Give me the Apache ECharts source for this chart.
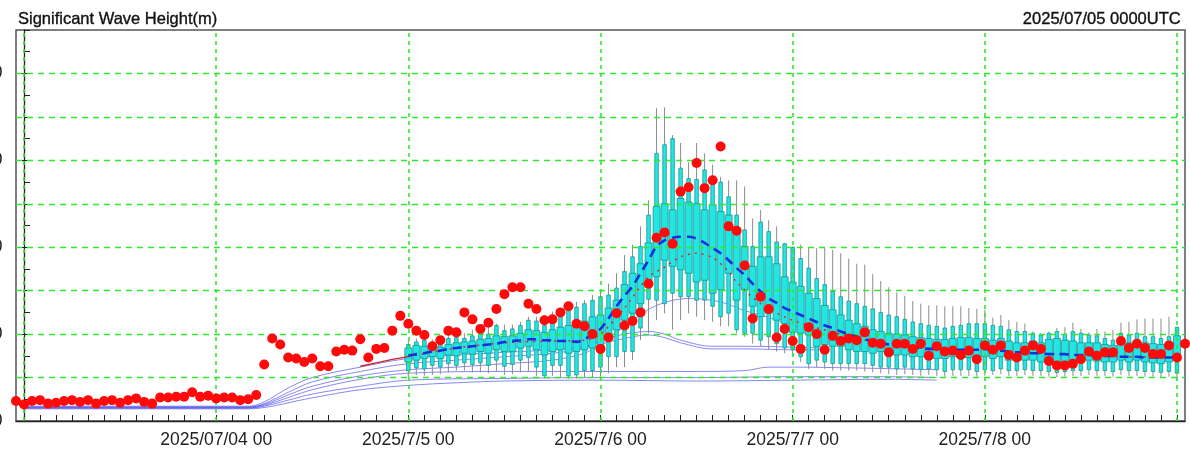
<!DOCTYPE html>
<html>
<head>
<meta charset="utf-8">
<title>Significant Wave Height</title>
<script src="https://cdn.jsdelivr.net/npm/echarts@6/dist/echarts.min.js"></script>
<style>
  html, body { margin: 0; padding: 0; background: #fff; }
  #chart { width: 1190px; height: 452px; }
</style>
</head>
<body>
<div id="chart"></div>
<script>
// Hours are counted from 2025/07/03 00 UTC.
const titleText = 'Significant Wave Height(m)';
const initText = '2025/07/05 0000UTC';

const xLabelHours = [24, 48, 72, 96, 120];
const xLabelText = ['2025/07/04 00', '2025/7/5 00', '2025/7/6 00', '2025/7/7 00', '2025/7/8 00'];
const dayHours = [0, 24, 48, 72, 96, 120, 144];
const yLabelValues = [0, 1, 2, 3, 4];
const yGridValues = [0.5, 1, 1.5, 2, 2.5, 3, 3.5, 4];

// Observed wave height, hourly from hour -1 to hour 145
const obsStartHour = -1;
const obsValues = [
  0.23, 0.19, 0.23, 0.24, 0.20, 0.21, 0.23, 0.24, 0.22, 0.24, 0.20, 0.23, 0.24, 0.21, 0.24, 0.26,
  0.22, 0.20, 0.27, 0.27, 0.28, 0.28, 0.33, 0.28, 0.29, 0.26, 0.27, 0.27, 0.24, 0.25, 0.30, 0.65,
  0.95, 0.88, 0.73, 0.72, 0.68, 0.72, 0.63, 0.63, 0.80, 0.82, 0.81, 0.94, 0.73, 0.83, 0.84, 1.04,
  1.21, 1.12, 1.04, 0.99, 0.86, 0.93, 1.04, 1.02, 1.25, 1.17, 1.06, 1.13, 1.29, 1.46, 1.54, 1.54,
  1.35, 1.29, 1.16, 1.17, 1.25, 1.32, 1.12, 1.09, 1.00, 0.83, 0.96, 1.24, 1.10, 1.15, 1.25, 1.58,
  2.11, 2.17, 2.04, 2.64, 2.69, 2.97, 2.68, 2.77, 3.16, 2.24, 2.19, 1.79, 1.18, 1.43, 1.29, 0.96,
  1.06, 0.92, 0.83, 1.08, 1.00, 0.82, 0.98, 0.92, 0.95, 0.93, 1.02, 0.90, 0.89, 0.79, 0.89, 0.89,
  0.83, 0.89, 0.75, 0.86, 0.80, 0.81, 0.76, 0.81, 0.71, 0.87, 0.82, 0.87, 0.76, 0.73, 0.81, 0.87,
  0.83, 0.69, 0.64, 0.64, 0.66, 0.71, 0.80, 0.75, 0.79, 0.79, 0.92, 0.84, 0.89, 0.84, 0.77, 0.77,
  0.87, 0.73, 0.89
];

// Ensemble statistics, hourly from hour 48 to hour 144
const ensStartHour = 48;
const ensMax = [
  0.93, 0.95, 0.99, 0.94, 0.98, 0.99, 1.03, 1.01, 1.05, 1.09, 1.08, 1.12, 1.11, 1.11, 1.14, 1.20,
  1.20, 1.22, 1.26, 1.26, 1.33, 1.37, 1.39, 1.45, 1.50, 1.58, 1.70, 1.91, 2.03, 2.24, 2.54, 3.60,
  3.61, 3.29, 3.20, 2.98, 3.20, 3.08, 2.95, 2.81, 2.77, 2.77, 2.70, 2.33, 2.43, 2.31, 2.24, 2.05,
  2.01, 2.03, 2.00, 1.99, 1.99, 1.97, 1.93, 1.87, 1.81, 1.80, 1.69, 1.61, 1.54, 1.48, 1.44, 1.38,
  1.35, 1.33, 1.33, 1.32, 1.32, 1.32, 1.30, 1.29, 1.28, 1.19, 1.22, 1.16, 1.14, 1.12, 1.03, 1.01,
  1.03, 1.07, 1.08, 1.13, 1.06, 1.02, 1.06, 1.03, 1.05, 1.13, 1.14, 1.17, 1.18, 1.18, 1.18, 1.20,
  1.08
];
const ensP90 = [
  0.88, 0.91, 0.93, 0.86, 0.90, 0.95, 0.96, 0.95, 0.98, 1.02, 1.00, 1.10, 1.04, 1.06, 1.10, 1.16,
  1.15, 1.10, 1.16, 1.24, 1.31, 1.31, 1.35, 1.39, 1.43, 1.45, 1.53, 1.72, 1.89, 2.01, 2.37, 3.08,
  3.18, 3.25, 2.91, 2.79, 2.78, 2.89, 2.74, 2.75, 2.58, 2.37, 2.20, 2.01, 2.29, 2.18, 2.06, 2.04,
  2.00, 1.87, 1.76, 1.64, 1.57, 1.49, 1.43, 1.38, 1.35, 1.32, 1.29, 1.25, 1.22, 1.20, 1.17, 1.14,
  1.12, 1.10, 1.09, 1.07, 1.09, 1.10, 1.12, 1.12, 1.12, 1.10, 1.09, 1.05, 1.03, 1.03, 1.01, 0.99,
  1.01, 1.03, 1.00, 1.03, 1.01, 0.99, 0.98, 0.95, 0.93, 1.01, 0.99, 1.01, 0.97, 0.97, 0.95, 0.97,
  1.08
];
const ensP75 = [
  0.84, 0.87, 0.86, 0.82, 0.85, 0.88, 0.90, 0.91, 0.92, 0.94, 0.95, 0.98, 0.97, 0.98, 1.01, 1.05,
  1.04, 1.02, 1.05, 1.08, 1.10, 1.12, 1.15, 1.20, 1.22, 1.30, 1.39, 1.57, 1.70, 1.81, 2.05, 2.47,
  2.50, 2.43, 2.56, 2.52, 2.50, 2.43, 2.49, 2.41, 2.37, 2.16, 2.01, 1.78, 1.89, 1.89, 1.81, 1.66,
  1.60, 1.55, 1.47, 1.41, 1.33, 1.28, 1.22, 1.16, 1.12, 1.09, 1.05, 1.03, 1.01, 1.00, 0.99, 0.97,
  0.96, 0.95, 0.94, 0.94, 0.95, 0.96, 0.96, 0.95, 0.95, 0.93, 0.95, 0.92, 0.90, 0.90, 0.92, 0.90,
  0.94, 0.95, 0.93, 0.92, 0.90, 0.90, 0.90, 0.88, 0.87, 0.92, 0.90, 0.92, 0.90, 0.89, 0.88, 0.90,
  0.98
];
const ensP25 = [
  0.68, 0.70, 0.72, 0.74, 0.72, 0.76, 0.75, 0.78, 0.77, 0.80, 0.78, 0.82, 0.80, 0.80, 0.84, 0.86,
  0.82, 0.76, 0.80, 0.82, 0.78, 0.80, 0.82, 0.84, 0.88, 0.98, 1.05, 1.16, 1.24, 1.35, 1.62, 1.66,
  1.85, 1.78, 1.74, 1.70, 1.60, 1.62, 1.47, 1.51, 1.70, 1.39, 1.51, 1.32, 1.20, 1.24, 1.16, 1.12,
  1.02, 1.01, 0.99, 0.86, 0.88, 0.86, 0.86, 0.82, 0.80, 0.80, 0.78, 0.80, 0.76, 0.76, 0.76, 0.74,
  0.74, 0.74, 0.72, 0.72, 0.74, 0.74, 0.73, 0.72, 0.74, 0.72, 0.74, 0.70, 0.70, 0.70, 0.70, 0.68,
  0.66, 0.66, 0.68, 0.68, 0.68, 0.70, 0.69, 0.68, 0.68, 0.70, 0.68, 0.70, 0.68, 0.67, 0.66, 0.68,
  0.70
];
const ensP10 = [
  0.58, 0.61, 0.60, 0.64, 0.62, 0.66, 0.64, 0.67, 0.65, 0.67, 0.64, 0.70, 0.63, 0.65, 0.70, 0.73,
  0.62, 0.52, 0.64, 0.64, 0.52, 0.53, 0.58, 0.58, 0.62, 0.74, 0.74, 0.80, 0.80, 1.07, 1.40, 1.39,
  1.35, 1.47, 1.43, 1.43, 1.39, 1.39, 1.32, 1.20, 1.24, 1.05, 1.01, 1.01, 0.93, 0.97, 0.89, 0.84,
  0.82, 0.74, 0.66, 0.70, 0.68, 0.66, 0.66, 0.66, 0.66, 0.66, 0.64, 0.62, 0.62, 0.60, 0.62, 0.60,
  0.59, 0.60, 0.59, 0.57, 0.59, 0.59, 0.59, 0.57, 0.59, 0.58, 0.60, 0.58, 0.58, 0.59, 0.58, 0.58,
  0.57, 0.56, 0.57, 0.58, 0.58, 0.59, 0.58, 0.58, 0.57, 0.59, 0.58, 0.58, 0.57, 0.57, 0.56, 0.57,
  0.55
];
const ensMin = [
  0.50, 0.53, 0.52, 0.53, 0.54, 0.56, 0.58, 0.58, 0.56, 0.56, 0.55, 0.57, 0.53, 0.54, 0.56, 0.57,
  0.52, 0.49, 0.52, 0.50, 0.49, 0.49, 0.50, 0.50, 0.51, 0.55, 0.62, 0.62, 0.70, 0.93, 1.01, 1.16,
  1.24, 1.05, 1.16, 1.24, 1.20, 1.16, 1.14, 1.09, 1.09, 1.01, 0.97, 0.89, 0.86, 0.82, 0.80, 0.78,
  0.75, 0.68, 0.60, 0.62, 0.60, 0.58, 0.58, 0.58, 0.58, 0.57, 0.56, 0.55, 0.54, 0.53, 0.54, 0.53,
  0.52, 0.53, 0.52, 0.51, 0.52, 0.52, 0.52, 0.51, 0.52, 0.53, 0.54, 0.52, 0.52, 0.53, 0.52, 0.52,
  0.51, 0.50, 0.51, 0.52, 0.52, 0.53, 0.52, 0.52, 0.51, 0.53, 0.52, 0.52, 0.51, 0.51, 0.50, 0.51,
  0.47
];
const ensMean = [
  0.75, 0.77, 0.78, 0.80, 0.81, 0.83, 0.84, 0.85, 0.86, 0.87, 0.88, 0.89, 0.91, 0.92, 0.93, 0.94,
  0.94, 0.93, 0.93, 0.92, 0.92, 0.91, 0.94, 1.00, 1.06, 1.18, 1.32, 1.44, 1.55, 1.70, 1.85, 2.01,
  2.08, 2.11, 2.12, 2.12, 2.10, 2.05, 1.99, 1.93, 1.85, 1.76, 1.68, 1.58, 1.49, 1.41, 1.36, 1.30,
  1.26, 1.22, 1.18, 1.14, 1.10, 1.07, 1.03, 1.00, 0.97, 0.94, 0.92, 0.90, 0.88, 0.87, 0.86, 0.85,
  0.84, 0.83, 0.83, 0.83, 0.82, 0.82, 0.82, 0.82, 0.83, 0.82, 0.81, 0.80, 0.79, 0.79, 0.78, 0.78,
  0.77, 0.77, 0.77, 0.76, 0.76, 0.76, 0.75, 0.75, 0.75, 0.74, 0.74, 0.74, 0.73, 0.73, 0.73, 0.73,
  0.73
];

// Control run: analysis part and forecast part, [hour, value]
const ctlAnalysis = [[42, 0.63], [44, 0.67], [46, 0.71], [48, 0.74]];
const ctlForecast = [
  [48, 0.74], [54, 0.84], [60, 0.90], [66, 0.92], [70, 0.93], [72, 1.00], [75, 1.30], [78, 1.66],
  [80, 1.77], [82, 1.89], [84, 1.93], [86, 1.88], [88, 1.72], [89, 1.60], [92, 1.35], [96, 1.16],
  [102, 1.00], [108, 0.88], [114, 0.83], [120, 0.82], [126, 0.78], [132, 0.76], [138, 0.74], [144, 0.73]
];

// Other guidance curves, [hour, value]
const guideA = [[0, 0.17], [28, 0.17], [30, 0.22], [33, 0.38], [36, 0.50], [42, 0.62], [48, 0.72], [54, 0.76],
  [60, 0.79], [66, 0.82], [70, 0.86], [72, 0.92], [74, 1.02], [76, 1.16], [79, 1.33], [83, 1.41], [87, 1.37],
  [90, 1.27], [92, 1.22], [96, 1.10], [100, 1.00]];
const guideB = [[0, 0.16], [28, 0.16], [30, 0.20], [33, 0.33], [36, 0.45], [42, 0.57], [48, 0.66], [54, 0.70],
  [60, 0.74], [66, 0.78], [70, 0.84], [72, 0.93], [75, 1.00], [78, 1.03], [80, 1.00], [82, 0.93], [86, 0.86],
  [90, 0.86], [96, 0.85], [100, 0.84]];
const guideC = [[0, 0.16], [28, 0.16], [30, 0.19], [33, 0.30], [36, 0.40], [42, 0.52], [48, 0.59], [54, 0.62],
  [60, 0.66], [66, 0.70], [70, 0.78], [72, 0.88], [75, 0.95], [78, 0.99], [80, 0.96], [82, 0.90], [86, 0.83],
  [90, 0.83], [96, 0.82], [100, 0.82]];
const guideD = [[0, 0.15], [28, 0.15], [30, 0.18], [33, 0.27], [36, 0.36], [42, 0.48], [48, 0.55], [60, 0.57],
  [72, 0.57], [84, 0.57], [90, 0.58], [93, 0.62], [96, 0.62], [104, 0.61], [114, 0.59]];
const guideE = [[0, 0.15], [28, 0.15], [30, 0.17], [33, 0.24], [36, 0.31], [42, 0.40], [48, 0.47], [60, 0.49],
  [72, 0.50], [84, 0.50], [96, 0.51], [108, 0.51], [114, 0.50]];
const guideF = [[0, 0.14], [28, 0.14], [31, 0.17], [34, 0.23], [38, 0.30], [42, 0.36], [48, 0.41], [54, 0.44],
  [60, 0.46], [72, 0.47], [84, 0.46], [96, 0.47], [108, 0.48], [114, 0.47]];

// ---- build series data ----
const obsData = obsValues.map((v, i) => [obsStartHour + i, v]);
const boxData = ensMean.map((_, i) => [
  ensStartHour + i, ensMin[i], ensP10[i], ensP25[i], ensP75[i], ensP90[i], ensMax[i]
]);
const meanData = ensMean.map((v, i) => [ensStartHour + i, v]);
const xTickHours = [];
for (let h = 0; h <= 144; h += 2) xTickHours.push(h);

const GREEN = '#2fe82f';
const FONT = '"Liberation Sans", Arial, Helvetica, sans-serif';
const headStyle = { fontFamily: FONT, fontSize: 16.5, fontWeight: 'normal', color: '#111',
  textBorderColor: '#111', textBorderWidth: 0.35 };

function renderBox(params, api) {
  const h = api.value(0);
  const pMin = api.coord([h, api.value(1)]);
  const p10 = api.coord([h, api.value(2)]);
  const p25 = api.coord([h, api.value(3)]);
  const p75 = api.coord([h, api.value(4)]);
  const p90 = api.coord([h, api.value(5)]);
  const pMax = api.coord([h, api.value(6)]);
  const cx = pMin[0];
  const boxStyle = { fill: '#22e6e2', stroke: '#138c8a', lineWidth: 0.7 };
  return {
    type: 'group',
    children: [
      { type: 'line', shape: { x1: cx, y1: pMax[1], x2: cx, y2: pMin[1] },
        style: { stroke: '#8c8c8c', lineWidth: 1 } },
      { type: 'rect', shape: { x: cx - 1.8, y: p90[1], width: 3.6, height: p10[1] - p90[1] },
        style: boxStyle },
      { type: 'rect', shape: { x: cx - 3.5, y: p75[1], width: 7, height: p25[1] - p75[1] },
        style: boxStyle }
    ]
  };
}

function guideSeries(data) {
  return {
    type: 'line', data: data, smooth: 0.35, symbol: 'none', z: 3, silent: true,
    lineStyle: { color: '#4d4de6', width: 0.9, opacity: 0.75 }
  };
}

const chart = echarts.init(document.getElementById('chart'), null, { renderer: 'canvas' });

chart.setOption({
  animation: false,
  backgroundColor: '#ffffff',
  title: [
    { text: titleText, left: 13, top: 6, textStyle: headStyle },
    { text: initText, right: 4, top: 6, textStyle: headStyle }
  ],
  grid: { left: 16, right: 5, top: 30, bottom: 31, containLabel: false, outerBoundsMode: 'none',
    show: true, borderColor: '#555', borderWidth: 1.5, backgroundColor: 'transparent' },
  xAxis: {
    type: 'value', min: -1, max: 145,
    axisLine: { show: true, onZero: false, lineStyle: { color: '#222', width: 1.3 } },
    axisTick: { show: true, inside: true, length: 6, customValues: xTickHours,
      lineStyle: { color: '#222', width: 1 } },
    axisLabel: {
      show: true, margin: 10, customValues: xLabelHours,
      formatter: v => xLabelText[xLabelHours.indexOf(v)] || '',
      fontFamily: FONT, fontSize: 17.5, color: '#222'
    },
    splitLine: { show: false }
  },
  yAxis: [
    {
      type: 'value', min: 0, max: 4.5, interval: 0.25,
      axisLine: { show: true, lineStyle: { color: '#222', width: 1.3 } },
      axisTick: { show: true, inside: true, length: 6, lineStyle: { color: '#222' } },
      axisLabel: {
        show: true, margin: 13.5, customValues: yLabelValues,
        formatter: v => v.toFixed(1), fontFamily: FONT, fontSize: 17.5, color: '#222'
      },
      splitLine: { show: false }
    },
    {
      type: 'value', min: 0, max: 4.5, position: 'left',
      axisLine: { show: false },
      axisTick: { show: true, inside: true, length: 14, customValues: yLabelValues,
        lineStyle: { color: '#222' } },
      axisLabel: { show: false },
      splitLine: { show: false }
    }
  ],
  series: [
    guideSeries(guideA), guideSeries(guideB), guideSeries(guideC),
    guideSeries(guideD), guideSeries(guideE), guideSeries(guideF),
    {
      type: 'custom', renderItem: renderBox, data: boxData, z: 4, silent: true,
      encode: { x: 0, y: [1, 2, 3, 4, 5, 6] }
    },
    {
      // dashed green grid drawn over the boxes
      type: 'line', data: [], z: 5, silent: true, symbol: 'none',
      markLine: {
        silent: true, symbol: 'none', animation: false,
        label: { show: false },
        data: [
          ...dayHours.map(h => ({ xAxis: h, lineStyle: { type: [4, 4], color: GREEN, width: 1.6 } })),
          ...yGridValues.map(v => ({ yAxis: v, lineStyle: { type: [6, 5], color: GREEN, width: 1.4 } }))
        ]
      }
    },
    {
      type: 'line', data: ctlAnalysis, z: 6, symbol: 'none', silent: true,
      lineStyle: { color: '#d01c2c', width: 1.3 }
    },
    {
      type: 'line', data: ctlForecast, z: 6, smooth: 0.3, symbol: 'none', silent: true,
      lineStyle: { color: '#e02020', width: 1.4, type: [2, 5] }
    },
    {
      type: 'line', data: meanData, z: 7, smooth: 0.3, symbol: 'none', silent: true,
      lineStyle: { color: '#1230dc', width: 2.6, type: [9, 6] }
    },
    {
      type: 'scatter', data: obsData, z: 8, symbol: 'circle', symbolSize: 10, silent: true,
      itemStyle: { color: '#ff0a0a', opacity: 1 }
    }
  ]
});
</script>
</body>
</html>
